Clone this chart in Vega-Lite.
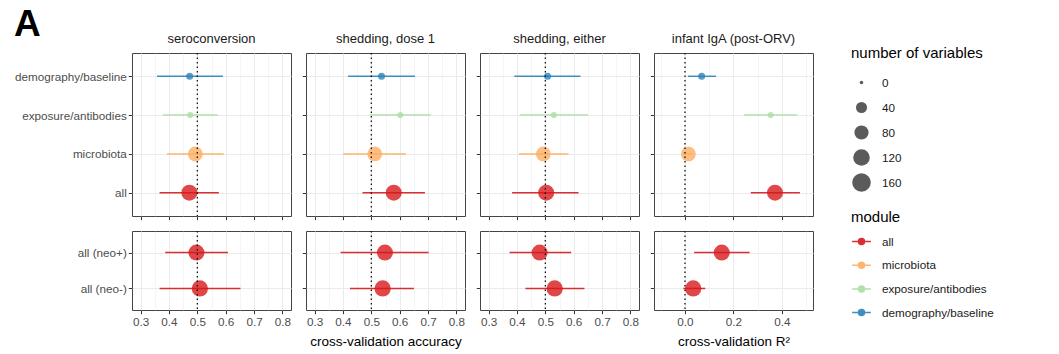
{
  "$schema": "https://vega.github.io/schema/vega-lite/v6.json",
  "padding": {"left": 14, "top": 5, "right": 5, "bottom": 5},
  "title": {"text": "A", "anchor": "start", "fontSize": 37, "fontWeight": "bold", "color": "black", "font": "Liberation Sans", "offset": -4, "dy": 36, "baseline": "alphabetic"},
  "datasets": {
    "est": [
      {"task": "sero", "row": "top", "label": "demography/baseline", "module": "demography/baseline", "est": 0.473, "lo": 0.358, "hi": 0.590, "n": 9},
      {"task": "sero", "row": "top", "label": "exposure/antibodies", "module": "exposure/antibodies", "est": 0.475, "lo": 0.379, "hi": 0.573, "n": 6},
      {"task": "sero", "row": "top", "label": "microbiota", "module": "microbiota", "est": 0.493, "lo": 0.393, "hi": 0.593, "n": 90},
      {"task": "sero", "row": "top", "label": "all", "module": "all", "est": 0.472, "lo": 0.367, "hi": 0.576, "n": 110},
      {"task": "shed1", "row": "top", "label": "demography/baseline", "module": "demography/baseline", "est": 0.536, "lo": 0.418, "hi": 0.654, "n": 9},
      {"task": "shed1", "row": "top", "label": "exposure/antibodies", "module": "exposure/antibodies", "est": 0.602, "lo": 0.495, "hi": 0.710, "n": 6},
      {"task": "shed1", "row": "top", "label": "microbiota", "module": "microbiota", "est": 0.512, "lo": 0.401, "hi": 0.622, "n": 90},
      {"task": "shed1", "row": "top", "label": "all", "module": "all", "est": 0.579, "lo": 0.469, "hi": 0.689, "n": 110},
      {"task": "sheda", "row": "top", "label": "demography/baseline", "module": "demography/baseline", "est": 0.508, "lo": 0.391, "hi": 0.624, "n": 9},
      {"task": "sheda", "row": "top", "label": "exposure/antibodies", "module": "exposure/antibodies", "est": 0.530, "lo": 0.410, "hi": 0.650, "n": 6},
      {"task": "sheda", "row": "top", "label": "microbiota", "module": "microbiota", "est": 0.493, "lo": 0.407, "hi": 0.582, "n": 90},
      {"task": "sheda", "row": "top", "label": "all", "module": "all", "est": 0.503, "lo": 0.383, "hi": 0.617, "n": 110},
      {"task": "iga", "row": "top", "label": "demography/baseline", "module": "demography/baseline", "est": 0.069, "lo": 0.012, "hi": 0.128, "n": 9},
      {"task": "iga", "row": "top", "label": "exposure/antibodies", "module": "exposure/antibodies", "est": 0.354, "lo": 0.244, "hi": 0.464, "n": 6},
      {"task": "iga", "row": "top", "label": "microbiota", "module": "microbiota", "est": 0.014, "lo": -0.005, "hi": 0.030, "n": 90},
      {"task": "iga", "row": "top", "label": "all", "module": "all", "est": 0.372, "lo": 0.272, "hi": 0.475, "n": 110},
      {"task": "sero", "row": "bot", "label": "all (neo+)", "module": "all", "est": 0.497, "lo": 0.387, "hi": 0.608, "n": 110},
      {"task": "sero", "row": "bot", "label": "all (neo-)", "module": "all", "est": 0.509, "lo": 0.367, "hi": 0.652, "n": 115},
      {"task": "shed1", "row": "bot", "label": "all (neo+)", "module": "all", "est": 0.548, "lo": 0.392, "hi": 0.702, "n": 110},
      {"task": "shed1", "row": "bot", "label": "all (neo-)", "module": "all", "est": 0.540, "lo": 0.425, "hi": 0.650, "n": 115},
      {"task": "sheda", "row": "bot", "label": "all (neo+)", "module": "all", "est": 0.480, "lo": 0.374, "hi": 0.591, "n": 110},
      {"task": "sheda", "row": "bot", "label": "all (neo-)", "module": "all", "est": 0.533, "lo": 0.430, "hi": 0.638, "n": 115},
      {"task": "iga", "row": "bot", "label": "all (neo+)", "module": "all", "est": 0.152, "lo": 0.038, "hi": 0.267, "n": 110},
      {"task": "iga", "row": "bot", "label": "all (neo-)", "module": "all", "est": 0.034, "lo": -0.007, "hi": 0.084, "n": 115}
    ],
    "ref": [
      {"task": "sero", "ref": 0.5},
      {"task": "shed1", "ref": 0.5},
      {"task": "sheda", "ref": 0.5},
      {"task": "iga", "ref": 0}
    ]
  },
  "columns": 4,
  "spacing": 15,
  "bounds": "flush",
  "align": "each",
  "concat": [
    {
      "width": 159, "height": 163,
      "title": {"text": "seroconversion", "anchor": "middle"},
      "data": {"name": "est"},
      "layer": [
        {"transform": [{"filter": "datum.task==='sero' && datum.row==='top'"}],
         "mark": {"type": "rule", "strokeWidth": 1.5, "opacity": 0.9},
         "encoding": {
           "x": {"field": "lo", "type": "quantitative", "scale": {"domain": [0.27, 0.83], "nice": false, "zero": false},
                 "axis": {"title": null, "tickCount": 50, "values": [0.3,0.35,0.4,0.45,0.5,0.55,0.6,0.65,0.7,0.75,0.8], "labels": false,
                          "tickOpacity": {"condition": {"test": "abs(datum.value*10-round(datum.value*10))<0.001", "value": 1}, "value": 0},
                          "gridWidth": {"condition": {"test": "abs(datum.value*10-round(datum.value*10))<0.001", "value": 1}, "value": 0.5}}},
           "x2": {"field": "hi"},
           "y": {"field": "label", "type": "nominal", "scale": {"type": "point", "padding": 0.6, "domain": ["demography/baseline", "exposure/antibodies", "microbiota", "all"]}, "axis": {"title": null, "labels": true}},
           "color": {"field": "module", "type": "nominal", "scale": {"domain": ["all", "microbiota", "exposure/antibodies", "demography/baseline"], "range": ["#d7191c", "#fdae61", "#abdda4", "#2b83ba"]}}
         }},
        {"transform": [{"filter": "datum.task==='sero' && datum.row==='top'"}],
         "mark": {"type": "circle", "opacity": 0.8},
         "encoding": {
           "x": {"field": "est", "type": "quantitative", "scale": {"domain": [0.27, 0.83], "nice": false, "zero": false}},
           "y": {"field": "label", "type": "nominal", "scale": {"type": "point", "padding": 0.6, "domain": ["demography/baseline", "exposure/antibodies", "microbiota", "all"]}},
           "color": {"field": "module", "type": "nominal", "scale": {"domain": ["all", "microbiota", "exposure/antibodies", "demography/baseline"], "range": ["#d7191c", "#fdae61", "#abdda4", "#2b83ba"]},
                     "legend": {"title": "module", "orient": "none", "legendX": 719, "legendY": 157, "symbolType": "M-1,0L1,0M-0.32,0A0.32,0.32,0,1,1,0.32,0A0.32,0.32,0,1,1,-0.32,0Z", "symbolSize": 350, "clipHeight": 19, "rowPadding": 4.7, "titlePadding": 7,
                                "encode": {"symbols": {"update": {"stroke": {"scale": "color", "field": "value"}, "fill": {"scale": "color", "field": "value"}, "strokeWidth": {"value": 1.5}, "opacity": {"value": 0.9}}}}}},
           "size": {"field": "n", "type": "quantitative", "scale": {"type": "linear", "domain": [0, 10, 20, 40, 80, 120, 160], "range": [12.6, 53.5, 78.5, 122.7, 201, 274.6, 346]},
                    "legend": {"title": "number of variables", "orient": "none", "legendX": 719, "legendY": -7, "values": [0, 40, 80, 120, 160], "clipHeight": 22, "rowPadding": 3, "titlePadding": 10.5,
                               "encode": {"symbols": {"update": {"fill": {"value": "#3a3a3a"}, "stroke": {"value": "#222222"}, "strokeWidth": {"value": 0.6}, "opacity": {"value": 1}}}}}}
         }},
        {"data": {"name": "ref"}, "transform": [{"filter": "datum.task==='sero'"}],
         "mark": {"type": "rule", "strokeDash": [1.5, 3], "color": "black", "strokeWidth": 1.2},
         "encoding": {"x": {"field": "ref", "type": "quantitative", "scale": {"domain": [0.27, 0.83], "nice": false, "zero": false}}}}
      ]
    },
    {
      "width": 159, "height": 163,
      "title": {"text": "shedding, dose 1", "anchor": "middle"},
      "data": {"name": "est"},
      "layer": [
        {"transform": [{"filter": "datum.task==='shed1' && datum.row==='top'"}],
         "mark": {"type": "rule", "strokeWidth": 1.5, "opacity": 0.9},
         "encoding": {
           "x": {"field": "lo", "type": "quantitative", "scale": {"domain": [0.27, 0.83], "nice": false, "zero": false},
                 "axis": {"title": null, "tickCount": 50, "values": [0.3,0.35,0.4,0.45,0.5,0.55,0.6,0.65,0.7,0.75,0.8], "labels": false,
                          "tickOpacity": {"condition": {"test": "abs(datum.value*10-round(datum.value*10))<0.001", "value": 1}, "value": 0},
                          "gridWidth": {"condition": {"test": "abs(datum.value*10-round(datum.value*10))<0.001", "value": 1}, "value": 0.5}}},
           "x2": {"field": "hi"},
           "y": {"field": "label", "type": "nominal", "scale": {"type": "point", "padding": 0.6, "domain": ["demography/baseline", "exposure/antibodies", "microbiota", "all"]}, "axis": {"title": null, "labels": false}},
           "color": {"field": "module", "type": "nominal", "scale": {"domain": ["all", "microbiota", "exposure/antibodies", "demography/baseline"], "range": ["#d7191c", "#fdae61", "#abdda4", "#2b83ba"]}}
         }},
        {"transform": [{"filter": "datum.task==='shed1' && datum.row==='top'"}],
         "mark": {"type": "circle", "opacity": 0.8},
         "encoding": {
           "x": {"field": "est", "type": "quantitative", "scale": {"domain": [0.27, 0.83], "nice": false, "zero": false}},
           "y": {"field": "label", "type": "nominal", "scale": {"type": "point", "padding": 0.6, "domain": ["demography/baseline", "exposure/antibodies", "microbiota", "all"]}},
           "color": {"field": "module", "type": "nominal", "scale": {"domain": ["all", "microbiota", "exposure/antibodies", "demography/baseline"], "range": ["#d7191c", "#fdae61", "#abdda4", "#2b83ba"]}},
           "size": {"field": "n", "type": "quantitative", "scale": {"type": "linear", "domain": [0, 10, 20, 40, 80, 120, 160], "range": [12.6, 53.5, 78.5, 122.7, 201, 274.6, 346]}}
         }},
        {"data": {"name": "ref"}, "transform": [{"filter": "datum.task==='shed1'"}],
         "mark": {"type": "rule", "strokeDash": [1.5, 3], "color": "black", "strokeWidth": 1.2},
         "encoding": {"x": {"field": "ref", "type": "quantitative", "scale": {"domain": [0.27, 0.83], "nice": false, "zero": false}}}}
      ]
    },
    {
      "width": 159, "height": 163,
      "title": {"text": "shedding, either", "anchor": "middle"},
      "data": {"name": "est"},
      "layer": [
        {"transform": [{"filter": "datum.task==='sheda' && datum.row==='top'"}],
         "mark": {"type": "rule", "strokeWidth": 1.5, "opacity": 0.9},
         "encoding": {
           "x": {"field": "lo", "type": "quantitative", "scale": {"domain": [0.27, 0.83], "nice": false, "zero": false},
                 "axis": {"title": null, "tickCount": 50, "values": [0.3,0.35,0.4,0.45,0.5,0.55,0.6,0.65,0.7,0.75,0.8], "labels": false,
                          "tickOpacity": {"condition": {"test": "abs(datum.value*10-round(datum.value*10))<0.001", "value": 1}, "value": 0},
                          "gridWidth": {"condition": {"test": "abs(datum.value*10-round(datum.value*10))<0.001", "value": 1}, "value": 0.5}}},
           "x2": {"field": "hi"},
           "y": {"field": "label", "type": "nominal", "scale": {"type": "point", "padding": 0.6, "domain": ["demography/baseline", "exposure/antibodies", "microbiota", "all"]}, "axis": {"title": null, "labels": false}},
           "color": {"field": "module", "type": "nominal", "scale": {"domain": ["all", "microbiota", "exposure/antibodies", "demography/baseline"], "range": ["#d7191c", "#fdae61", "#abdda4", "#2b83ba"]}}
         }},
        {"transform": [{"filter": "datum.task==='sheda' && datum.row==='top'"}],
         "mark": {"type": "circle", "opacity": 0.8},
         "encoding": {
           "x": {"field": "est", "type": "quantitative", "scale": {"domain": [0.27, 0.83], "nice": false, "zero": false}},
           "y": {"field": "label", "type": "nominal", "scale": {"type": "point", "padding": 0.6, "domain": ["demography/baseline", "exposure/antibodies", "microbiota", "all"]}},
           "color": {"field": "module", "type": "nominal", "scale": {"domain": ["all", "microbiota", "exposure/antibodies", "demography/baseline"], "range": ["#d7191c", "#fdae61", "#abdda4", "#2b83ba"]}},
           "size": {"field": "n", "type": "quantitative", "scale": {"type": "linear", "domain": [0, 10, 20, 40, 80, 120, 160], "range": [12.6, 53.5, 78.5, 122.7, 201, 274.6, 346]}}
         }},
        {"data": {"name": "ref"}, "transform": [{"filter": "datum.task==='sheda'"}],
         "mark": {"type": "rule", "strokeDash": [1.5, 3], "color": "black", "strokeWidth": 1.2},
         "encoding": {"x": {"field": "ref", "type": "quantitative", "scale": {"domain": [0.27, 0.83], "nice": false, "zero": false}}}}
      ]
    },
    {
      "width": 159, "height": 163,
      "title": {"text": "infant IgA (post-ORV)", "anchor": "middle"},
      "data": {"name": "est"},
      "layer": [
        {"transform": [{"filter": "datum.task==='iga' && datum.row==='top'"}],
         "mark": {"type": "rule", "strokeWidth": 1.5, "opacity": 0.9},
         "encoding": {
           "x": {"field": "lo", "type": "quantitative", "scale": {"domain": [-0.128, 0.529], "nice": false, "zero": false},
                 "axis": {"title": null, "tickCount": 50, "values": [-0.1,0,0.1,0.2,0.3,0.4,0.5], "labels": false,
                          "tickOpacity": {"condition": {"test": "abs(datum.value*5-round(datum.value*5))<0.001", "value": 1}, "value": 0},
                          "gridWidth": {"condition": {"test": "abs(datum.value*5-round(datum.value*5))<0.001", "value": 1}, "value": 0.5}}},
           "x2": {"field": "hi"},
           "y": {"field": "label", "type": "nominal", "scale": {"type": "point", "padding": 0.6, "domain": ["demography/baseline", "exposure/antibodies", "microbiota", "all"]}, "axis": {"title": null, "labels": false}},
           "color": {"field": "module", "type": "nominal", "scale": {"domain": ["all", "microbiota", "exposure/antibodies", "demography/baseline"], "range": ["#d7191c", "#fdae61", "#abdda4", "#2b83ba"]}}
         }},
        {"transform": [{"filter": "datum.task==='iga' && datum.row==='top'"}],
         "mark": {"type": "circle", "opacity": 0.8},
         "encoding": {
           "x": {"field": "est", "type": "quantitative", "scale": {"domain": [-0.128, 0.529], "nice": false, "zero": false}},
           "y": {"field": "label", "type": "nominal", "scale": {"type": "point", "padding": 0.6, "domain": ["demography/baseline", "exposure/antibodies", "microbiota", "all"]}},
           "color": {"field": "module", "type": "nominal", "scale": {"domain": ["all", "microbiota", "exposure/antibodies", "demography/baseline"], "range": ["#d7191c", "#fdae61", "#abdda4", "#2b83ba"]}},
           "size": {"field": "n", "type": "quantitative", "scale": {"type": "linear", "domain": [0, 10, 20, 40, 80, 120, 160], "range": [12.6, 53.5, 78.5, 122.7, 201, 274.6, 346]}}
         }},
        {"data": {"name": "ref"}, "transform": [{"filter": "datum.task==='iga'"}],
         "mark": {"type": "rule", "strokeDash": [1.5, 3], "color": "black", "strokeWidth": 1.2},
         "encoding": {"x": {"field": "ref", "type": "quantitative", "scale": {"domain": [-0.128, 0.529], "nice": false, "zero": false}}}}
      ]
    },
    {
      "width": 159, "height": 79,
      "data": {"name": "est"},
      "layer": [
        {"transform": [{"filter": "datum.task==='sero' && datum.row==='bot'"}],
         "mark": {"type": "rule", "strokeWidth": 1.5, "opacity": 0.9},
         "encoding": {
           "x": {"field": "lo", "type": "quantitative", "scale": {"domain": [0.27, 0.83], "nice": false, "zero": false},
                 "axis": {"title": null, "tickCount": 50, "values": [0.3,0.35,0.4,0.45,0.5,0.55,0.6,0.65,0.7,0.75,0.8], "labels": true, "labelOverlap": false, "labelFlush": false, "labelBound": false,
                          "labelExpr": "abs(datum.value*10-round(datum.value*10))<0.001 ? format(datum.value,'.1f') : ''",
                          "tickOpacity": {"condition": {"test": "abs(datum.value*10-round(datum.value*10))<0.001", "value": 1}, "value": 0},
                          "gridWidth": {"condition": {"test": "abs(datum.value*10-round(datum.value*10))<0.001", "value": 1}, "value": 0.5}}},
           "x2": {"field": "hi"},
           "y": {"field": "label", "type": "nominal", "scale": {"type": "point", "padding": 0.6, "domain": ["all (neo+)", "all (neo-)"]}, "axis": {"title": null, "labels": true}},
           "color": {"field": "module", "type": "nominal", "scale": {"domain": ["all", "microbiota", "exposure/antibodies", "demography/baseline"], "range": ["#d7191c", "#fdae61", "#abdda4", "#2b83ba"]}}
         }},
        {"transform": [{"filter": "datum.task==='sero' && datum.row==='bot'"}],
         "mark": {"type": "circle", "opacity": 0.8},
         "encoding": {
           "x": {"field": "est", "type": "quantitative", "scale": {"domain": [0.27, 0.83], "nice": false, "zero": false}},
           "y": {"field": "label", "type": "nominal", "scale": {"type": "point", "padding": 0.6, "domain": ["all (neo+)", "all (neo-)"]}},
           "color": {"field": "module", "type": "nominal", "scale": {"domain": ["all", "microbiota", "exposure/antibodies", "demography/baseline"], "range": ["#d7191c", "#fdae61", "#abdda4", "#2b83ba"]}},
           "size": {"field": "n", "type": "quantitative", "scale": {"type": "linear", "domain": [0, 10, 20, 40, 80, 120, 160], "range": [12.6, 53.5, 78.5, 122.7, 201, 274.6, 346]}}
         }},
        {"data": {"name": "ref"}, "transform": [{"filter": "datum.task==='sero'"}],
         "mark": {"type": "rule", "strokeDash": [1.5, 3], "color": "black", "strokeWidth": 1.2},
         "encoding": {"x": {"field": "ref", "type": "quantitative", "scale": {"domain": [0.27, 0.83], "nice": false, "zero": false}}}}
      ]
    },
    {
      "width": 159, "height": 79,
      "data": {"name": "est"},
      "layer": [
        {"transform": [{"filter": "datum.task==='shed1' && datum.row==='bot'"}],
         "mark": {"type": "rule", "strokeWidth": 1.5, "opacity": 0.9},
         "encoding": {
           "x": {"field": "lo", "type": "quantitative", "scale": {"domain": [0.27, 0.83], "nice": false, "zero": false},
                 "axis": {"title": "cross-validation accuracy", "tickCount": 50, "values": [0.3,0.35,0.4,0.45,0.5,0.55,0.6,0.65,0.7,0.75,0.8], "labels": true, "labelOverlap": false, "labelFlush": false, "labelBound": false,
                          "labelExpr": "abs(datum.value*10-round(datum.value*10))<0.001 ? format(datum.value,'.1f') : ''",
                          "tickOpacity": {"condition": {"test": "abs(datum.value*10-round(datum.value*10))<0.001", "value": 1}, "value": 0},
                          "gridWidth": {"condition": {"test": "abs(datum.value*10-round(datum.value*10))<0.001", "value": 1}, "value": 0.5}}},
           "x2": {"field": "hi"},
           "y": {"field": "label", "type": "nominal", "scale": {"type": "point", "padding": 0.6, "domain": ["all (neo+)", "all (neo-)"]}, "axis": {"title": null, "labels": false}},
           "color": {"field": "module", "type": "nominal", "scale": {"domain": ["all", "microbiota", "exposure/antibodies", "demography/baseline"], "range": ["#d7191c", "#fdae61", "#abdda4", "#2b83ba"]}}
         }},
        {"transform": [{"filter": "datum.task==='shed1' && datum.row==='bot'"}],
         "mark": {"type": "circle", "opacity": 0.8},
         "encoding": {
           "x": {"field": "est", "type": "quantitative", "scale": {"domain": [0.27, 0.83], "nice": false, "zero": false}},
           "y": {"field": "label", "type": "nominal", "scale": {"type": "point", "padding": 0.6, "domain": ["all (neo+)", "all (neo-)"]}},
           "color": {"field": "module", "type": "nominal", "scale": {"domain": ["all", "microbiota", "exposure/antibodies", "demography/baseline"], "range": ["#d7191c", "#fdae61", "#abdda4", "#2b83ba"]}},
           "size": {"field": "n", "type": "quantitative", "scale": {"type": "linear", "domain": [0, 10, 20, 40, 80, 120, 160], "range": [12.6, 53.5, 78.5, 122.7, 201, 274.6, 346]}}
         }},
        {"data": {"name": "ref"}, "transform": [{"filter": "datum.task==='shed1'"}],
         "mark": {"type": "rule", "strokeDash": [1.5, 3], "color": "black", "strokeWidth": 1.2},
         "encoding": {"x": {"field": "ref", "type": "quantitative", "scale": {"domain": [0.27, 0.83], "nice": false, "zero": false}}}}
      ]
    },
    {
      "width": 159, "height": 79,
      "data": {"name": "est"},
      "layer": [
        {"transform": [{"filter": "datum.task==='sheda' && datum.row==='bot'"}],
         "mark": {"type": "rule", "strokeWidth": 1.5, "opacity": 0.9},
         "encoding": {
           "x": {"field": "lo", "type": "quantitative", "scale": {"domain": [0.27, 0.83], "nice": false, "zero": false},
                 "axis": {"title": null, "tickCount": 50, "values": [0.3,0.35,0.4,0.45,0.5,0.55,0.6,0.65,0.7,0.75,0.8], "labels": true, "labelOverlap": false, "labelFlush": false, "labelBound": false,
                          "labelExpr": "abs(datum.value*10-round(datum.value*10))<0.001 ? format(datum.value,'.1f') : ''",
                          "tickOpacity": {"condition": {"test": "abs(datum.value*10-round(datum.value*10))<0.001", "value": 1}, "value": 0},
                          "gridWidth": {"condition": {"test": "abs(datum.value*10-round(datum.value*10))<0.001", "value": 1}, "value": 0.5}}},
           "x2": {"field": "hi"},
           "y": {"field": "label", "type": "nominal", "scale": {"type": "point", "padding": 0.6, "domain": ["all (neo+)", "all (neo-)"]}, "axis": {"title": null, "labels": false}},
           "color": {"field": "module", "type": "nominal", "scale": {"domain": ["all", "microbiota", "exposure/antibodies", "demography/baseline"], "range": ["#d7191c", "#fdae61", "#abdda4", "#2b83ba"]}}
         }},
        {"transform": [{"filter": "datum.task==='sheda' && datum.row==='bot'"}],
         "mark": {"type": "circle", "opacity": 0.8},
         "encoding": {
           "x": {"field": "est", "type": "quantitative", "scale": {"domain": [0.27, 0.83], "nice": false, "zero": false}},
           "y": {"field": "label", "type": "nominal", "scale": {"type": "point", "padding": 0.6, "domain": ["all (neo+)", "all (neo-)"]}},
           "color": {"field": "module", "type": "nominal", "scale": {"domain": ["all", "microbiota", "exposure/antibodies", "demography/baseline"], "range": ["#d7191c", "#fdae61", "#abdda4", "#2b83ba"]}},
           "size": {"field": "n", "type": "quantitative", "scale": {"type": "linear", "domain": [0, 10, 20, 40, 80, 120, 160], "range": [12.6, 53.5, 78.5, 122.7, 201, 274.6, 346]}}
         }},
        {"data": {"name": "ref"}, "transform": [{"filter": "datum.task==='sheda'"}],
         "mark": {"type": "rule", "strokeDash": [1.5, 3], "color": "black", "strokeWidth": 1.2},
         "encoding": {"x": {"field": "ref", "type": "quantitative", "scale": {"domain": [0.27, 0.83], "nice": false, "zero": false}}}}
      ]
    },
    {
      "width": 159, "height": 79,
      "data": {"name": "est"},
      "layer": [
        {"transform": [{"filter": "datum.task==='iga' && datum.row==='bot'"}],
         "mark": {"type": "rule", "strokeWidth": 1.5, "opacity": 0.9},
         "encoding": {
           "x": {"field": "lo", "type": "quantitative", "scale": {"domain": [-0.128, 0.529], "nice": false, "zero": false},
                 "axis": {"title": "cross-validation R²", "tickCount": 50, "values": [-0.1,0,0.1,0.2,0.3,0.4,0.5], "labels": true, "labelOverlap": false, "labelFlush": false, "labelBound": false,
                          "labelExpr": "abs(datum.value*5-round(datum.value*5))<0.001 ? format(datum.value,'.1f') : ''",
                          "tickOpacity": {"condition": {"test": "abs(datum.value*5-round(datum.value*5))<0.001", "value": 1}, "value": 0},
                          "gridWidth": {"condition": {"test": "abs(datum.value*5-round(datum.value*5))<0.001", "value": 1}, "value": 0.5}}},
           "x2": {"field": "hi"},
           "y": {"field": "label", "type": "nominal", "scale": {"type": "point", "padding": 0.6, "domain": ["all (neo+)", "all (neo-)"]}, "axis": {"title": null, "labels": false}},
           "color": {"field": "module", "type": "nominal", "scale": {"domain": ["all", "microbiota", "exposure/antibodies", "demography/baseline"], "range": ["#d7191c", "#fdae61", "#abdda4", "#2b83ba"]}}
         }},
        {"transform": [{"filter": "datum.task==='iga' && datum.row==='bot'"}],
         "mark": {"type": "circle", "opacity": 0.8},
         "encoding": {
           "x": {"field": "est", "type": "quantitative", "scale": {"domain": [-0.128, 0.529], "nice": false, "zero": false}},
           "y": {"field": "label", "type": "nominal", "scale": {"type": "point", "padding": 0.6, "domain": ["all (neo+)", "all (neo-)"]}},
           "color": {"field": "module", "type": "nominal", "scale": {"domain": ["all", "microbiota", "exposure/antibodies", "demography/baseline"], "range": ["#d7191c", "#fdae61", "#abdda4", "#2b83ba"]}},
           "size": {"field": "n", "type": "quantitative", "scale": {"type": "linear", "domain": [0, 10, 20, 40, 80, 120, 160], "range": [12.6, 53.5, 78.5, 122.7, 201, 274.6, 346]}}
         }},
        {"data": {"name": "ref"}, "transform": [{"filter": "datum.task==='iga'"}],
         "mark": {"type": "rule", "strokeDash": [1.5, 3], "color": "black", "strokeWidth": 1.2},
         "encoding": {"x": {"field": "ref", "type": "quantitative", "scale": {"domain": [-0.128, 0.529], "nice": false, "zero": false}}}}
      ]
    }
  ],
  "config": {
    "font": "Liberation Sans",
    "view": {"stroke": "#444444", "strokeWidth": 1},
    "axis": {"domain": false, "tickColor": "#333333", "tickSize": 3.7, "tickWidth": 1, "labelColor": "#4d4d4d", "labelFontSize": 11.7, "labelFont": "Liberation Sans", "gridColor": "#ebebeb", "gridWidth": 1, "grid": true, "titleFont": "Liberation Sans", "titleFontSize": 13.5, "titleFontWeight": "normal", "titleColor": "black", "labelPadding": 3, "titlePadding": 6, "labelOverlap": false},
    "axisY": {"labelPadding": 2},
    "title": {"fontSize": 13, "fontWeight": "normal", "color": "#1a1a1a", "offset": 6, "font": "Liberation Sans"},
    "legend": {"titleFontSize": 15, "titleFontWeight": "normal", "titleColor": "black", "titleFont": "Liberation Sans", "labelFontSize": 11.7, "labelColor": "#1a1a1a", "labelFont": "Liberation Sans", "padding": 0, "labelOffset": 10}
  }
}
